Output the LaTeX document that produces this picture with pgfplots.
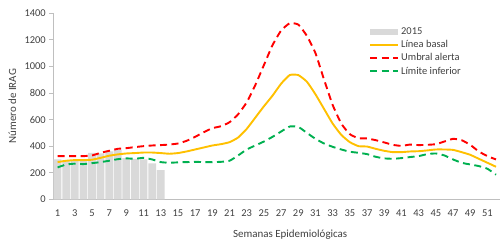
\documentclass[border=0pt]{standalone}
\usepackage{pgfplots}
\pgfplotsset{compat=1.18}
\usepackage{fontspec}
\setmainfont{Carlito}
\definecolor{barc}{HTML}{D9D9D9}
\definecolor{basal}{HTML}{FFC000}
\definecolor{alerta}{HTML}{FF0000}
\definecolor{inferior}{HTML}{00B050}
\definecolor{axc}{HTML}{BFBFBF}
\definecolor{txt}{HTML}{404040}
\pgfplotsset{
  barlegend/.style={legend image code/.code={\fill[barc] (0bp,-3bp) rectangle (28bp,3bp);}},
  basallegend/.style={legend image code/.code={\draw[basal, line width=1.9bp] (0bp,0bp) -- (28bp,0bp);}},
  alertalegend/.style={legend image code/.code={\draw[alerta, line width=1.9bp, dash pattern=on 7bp off 4.5bp] (0bp,0bp) -- (28bp,0bp);}},
  inflegend/.style={legend image code/.code={\draw[inferior, line width=1.9bp, dash pattern=on 7bp off 4.5bp] (0bp,0bp) -- (28bp,0bp);}},
}
\begin{document}
\begin{tikzpicture}
\begin{axis}[
  at={(0,0)}, anchor=south west,
  scale only axis, width=447bp, height=186bp,
  xmin=0.5, xmax=52.5, ymin=0, ymax=1400,
  axis x line*=bottom, axis y line*=left,
  axis line style={axc, line width=0.8bp},
  tick align=outside,
  major tick length=4bp, minor tick length=4bp,
  ytick={0,200,...,1400},
  xtick={1,3,...,51},
  minor xtick={0.5,1.5,...,52.5},
  x tick style={draw=none},
  minor x tick style={axc, line width=0.8bp},
  y tick style={axc, line width=0.8bp},
  tick label style={font=\fontsize{10.5}{12}\selectfont, text=txt},
  /pgf/number format/assume math mode=true,
  /pgf/number format/1000 sep={},
  xticklabel style={yshift=-3bp},
  xlabel={Semanas Epidemiológicas},
  ylabel={Número de IRAG},
  label style={font=\fontsize{11}{13}\selectfont, text=txt},
  xlabel style={at={(axis description cs:0.53,0)}, anchor=center, yshift=-35.5bp},
  ylabel style={at={(axis description cs:-0.0917,0.5)}, anchor=center},
  legend style={at={(axis description cs:0.706,0.937)}, anchor=north west, draw=none, fill=none,
    inner sep=0pt, row sep=0.2bp, font=\fontsize{10.5}{12}\selectfont,
    nodes={inner sep=2.2bp, text=txt}},
  legend cell align=left,
]
\addplot[ybar, bar width=0.9, bar shift=0pt, fill=barc, draw=none, barlegend]
  coordinates {(1,300) (2,295) (3,295) (4,295) (5,350) (6,345) (7,360) (8,370)
  (9,310) (10,305) (11,300) (12,270) (13,220)};
\addlegendentry{2015}
\addplot[basal, line width=1.9bp, smooth, tension=0.3, basallegend]
  coordinates {(1,280) (2,290) (3,295) (4,295) (5,298) (6,312) (7,328) (8,338)
  (9,345) (10,348) (11,352) (12,352) (13,348) (14,343) (15,348) (16,360)
  (17,375) (18,390) (19,405) (20,415) (21,430) (22,465) (23,530) (24,615)
  (25,700) (26,780) (27,870) (28,935) (29,935) (30,885) (31,790) (32,680)
  (33,570) (34,485) (35,430) (36,400) (37,397) (38,380) (39,365) (40,355)
  (41,355) (42,360) (43,362) (44,368) (45,375) (46,375) (47,372) (48,355)
  (49,335) (50,305) (51,275) (52,245)};
\addlegendentry{Línea basal}
\addplot[alerta, line width=1.9bp, dash pattern=on 7bp off 4.5bp, smooth, tension=0.3, alertalegend]
  coordinates {(1,325) (2,325) (3,325) (4,325) (5,330) (6,350) (7,365) (8,380)
  (9,385) (10,393) (11,400) (12,405) (13,408) (14,412) (15,420) (16,440)
  (17,470) (18,505) (19,535) (20,550) (21,580) (22,640) (23,730) (24,860)
  (25,1010) (26,1160) (27,1270) (28,1325) (29,1315) (30,1230) (31,1100) (32,900)
  (33,710) (34,570) (35,490) (36,460) (37,458) (38,445) (39,428) (40,410)
  (41,402) (42,412) (43,408) (44,410) (45,415) (46,435) (47,455) (48,445)
  (49,410) (50,360) (51,325) (52,300)};
\addlegendentry{Umbral alerta}
\addplot[inferior, line width=1.9bp, dash pattern=on 7bp off 4.5bp, smooth, tension=0.3, inflegend]
  coordinates {(1,240) (2,262) (3,268) (4,265) (5,272) (6,280) (7,290) (8,302)
  (9,308) (10,305) (11,312) (12,300) (13,280) (14,275) (15,278) (16,280)
  (17,282) (18,280) (19,280) (20,282) (21,290) (22,330) (23,375) (24,405)
  (25,435) (26,470) (27,510) (28,548) (29,545) (30,500) (31,455) (32,420)
  (33,395) (34,375) (35,358) (36,350) (37,340) (38,320) (39,308) (40,305)
  (41,310) (42,318) (43,325) (44,340) (45,345) (46,330) (47,300) (48,275)
  (49,262) (50,250) (51,230) (52,185)};
\addlegendentry{Límite inferior}
\end{axis}
\pgfresetboundingbox
\path (-53.3bp,-43.7bp) rectangle (448.7bp,199.3bp);
\end{tikzpicture}
\end{document}
